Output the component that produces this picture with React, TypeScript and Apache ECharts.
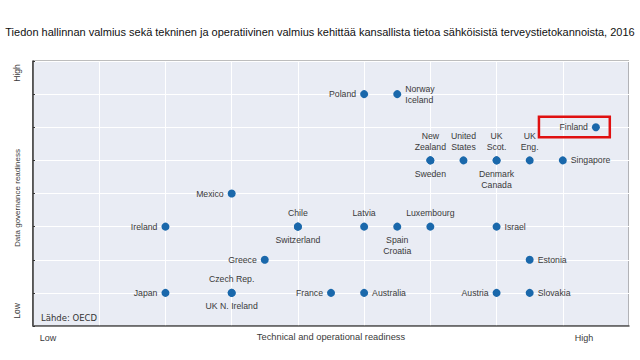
import React, { useEffect, useRef } from "react";
import * as echarts from "echarts";

const title =
  "Tiedon hallinnan valmius sekä tekninen ja operatiivinen valmius kehittää kansallista tietoa sähköisistä terveystietokannoista, 2016";
const source = "Lähde: OECD";
const xAxisName = "Technical and operational readiness";
const yAxisName = "Data governance readiness";
const lowLabel = "Low";
const highLabel = "High";

// Each entry: label text, technical readiness (x), data governance readiness (y)
const countryLabels = [
  "Poland", "Norway\nIceland",
  "New\nZealand", "Sweden", "United\nStates", "UK\nScot.", "Denmark\nCanada", "UK\nEng.", "Singapore",
  "Finland",
  "Mexico",
  "Ireland", "Chile", "Switzerland", "Latvia", "Spain\nCroatia", "Luxembourg", "Israel",
  "Greece", "Estonia",
  "Japan", "Czech Rep.", "UK N. Ireland", "France", "Australia", "Austria", "Slovakia",
];
const technicalValues = [
  5, 5.5,
  6, 6, 6.5, 7, 7, 7.5, 8,
  8.5,
  3,
  2, 4, 4, 5, 5.5, 6, 7,
  3.5, 7.5,
  2, 3, 3, 4.5, 5, 7, 7.5,
];
const governanceValues = [
  7, 7,
  5, 5, 5, 5, 5, 5, 5,
  6,
  4,
  3, 3, 3, 3, 3, 3, 3,
  2, 2,
  1, 1, 1, 1, 1, 1, 1,
];
const labelSides = [
  "left", "right",
  "top", "bottom", "top", "top", "bottom", "top", "right",
  "left",
  "left",
  "left", "top", "bottom", "top", "bottom", "top", "right",
  "left", "right",
  "left", "top", "bottom", "left", "right", "left", "right",
];
const highlighted = "Finland";

export default function App() {
  const ref = useRef<HTMLDivElement>(null);
  useEffect(() => {
    if (!ref.current) return;
    const chart = echarts.init(ref.current, null, { renderer: "svg" });
    const data = countryLabels.map((name, i) => ({
      name,
      value: [technicalValues[i], governanceValues[i]],
      label: { position: labelSides[i] },
    }));
    const fi = countryLabels.indexOf(highlighted);
    const fx = technicalValues[fi];
    const fy = governanceValues[fi];
    chart.setOption({
      animation: false,
      backgroundColor: "#ffffff",
      textStyle: { fontFamily: "Liberation Sans" },
      grid: {
        left: 33,
        right: 11,
        top: 61,
        bottom: 34,
        show: true,
        backgroundColor: "#e9ecf4",
        borderColor: "#7a7a7a",
        borderWidth: 1,
      },
      xAxis: {
        type: "value",
        min: 0,
        max: 9,
        interval: 1,
        axisLabel: { show: false },
        axisTick: { show: false },
        axisLine: { show: true, lineStyle: { color: "#555", width: 1.5 } },
        splitLine: { show: true, lineStyle: { color: "#ffffff", width: 1 } },
      },
      yAxis: {
        type: "value",
        min: 0,
        max: 8,
        interval: 1,
        axisLabel: { show: false },
        axisTick: { show: true, inside: true, length: 2, lineStyle: { color: "#333" } },
        axisLine: { show: true, lineStyle: { color: "#333", width: 1.5 } },
        splitLine: { show: true, lineStyle: { color: "#ffffff", width: 1 } },
      },
      series: [
        {
          type: "scatter",
          symbol: "circle",
          symbolSize: 8,
          itemStyle: { color: "#1a68ab", opacity: 1 },
          label: {
            show: true,
            formatter: "{b}",
            fontSize: 8.7,
            color: "#3a3a3a",
            distance: 4,
            lineHeight: 11,
          },
          data,
          markArea: {
            silent: true,
            itemStyle: {
              color: "rgba(0,0,0,0)",
              borderColor: "#e01010",
              borderWidth: 2.5,
            },
            data: [
              [
                { coord: [fx - 0.86, fy + 0.32] },
                { coord: [fx + 0.21, fy - 0.3] },
              ],
            ],
          },
        },
      ],
      graphic: [
        {
          type: "text",
          left: "center",
          top: 26,
          style: { text: title, fontSize: 11, fill: "#111", fontFamily: "Liberation Sans" },
        },
        {
          type: "text",
          x: 41,
          y: 318,
          style: { text: source, fontSize: 8.5, fill: "#333", fontFamily: "DejaVu Sans", verticalAlign: "middle" },
        },
        {
          type: "text",
          x: 48,
          y: 338,
          style: { text: lowLabel, fontSize: 9, fill: "#3a3a3a", align: "center", verticalAlign: "middle" },
        },
        {
          type: "text",
          x: 331,
          y: 337,
          style: { text: xAxisName, fontSize: 9.3, fill: "#3a3a3a", align: "center", verticalAlign: "middle" },
        },
        {
          type: "text",
          x: 584,
          y: 338,
          style: { text: highLabel, fontSize: 9, fill: "#3a3a3a", align: "center", verticalAlign: "middle" },
        },
        {
          type: "text",
          x: 17,
          y: 73,
          rotation: Math.PI / 2,
          style: { text: highLabel, fontSize: 8.5, fill: "#3a3a3a", align: "center", verticalAlign: "middle" },
        },
        {
          type: "text",
          x: 17,
          y: 198,
          rotation: Math.PI / 2,
          style: { text: yAxisName, fontSize: 8, fill: "#3a3a3a", align: "center", verticalAlign: "middle" },
        },
        {
          type: "text",
          x: 17,
          y: 311,
          rotation: Math.PI / 2,
          style: { text: lowLabel, fontSize: 8.5, fill: "#3a3a3a", align: "center", verticalAlign: "middle" },
        },
      ],
    });
    return () => chart.dispose();
  }, []);
  return <div ref={ref} style={{ width: 640, height: 360, position: "fixed", left: 0, top: 0 }} />;
}
